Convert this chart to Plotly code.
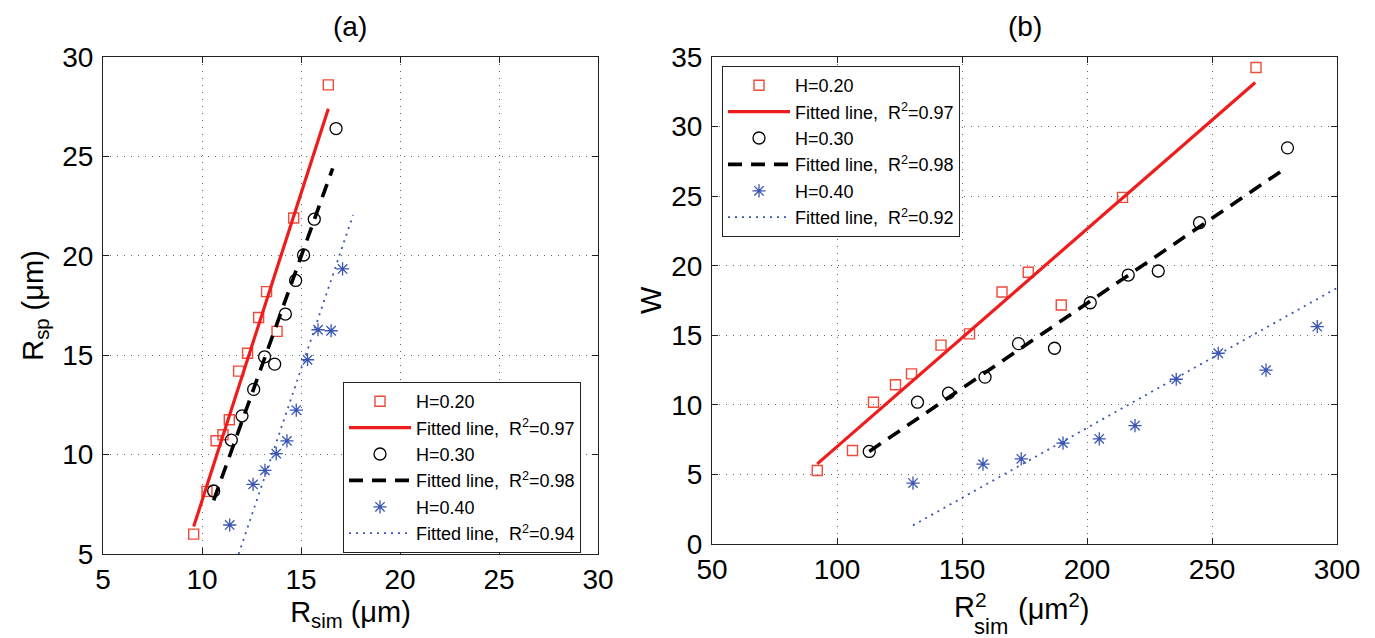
import plotly.graph_objects as go

# ---------------- Panel (a) data ----------------
a_h20_x = [9.58, 10.25, 10.71, 11.06, 11.38, 11.85, 12.30, 12.86, 13.26, 13.79, 14.63, 16.38]
a_h20_y = [6.0, 8.15, 10.7, 11.0, 11.75, 14.2, 15.1, 16.9, 18.2, 16.2, 21.9, 28.6]
a_h30_x = [10.59, 11.48, 12.02, 12.61, 13.16, 13.67, 14.21, 14.73, 15.13, 15.67, 16.77]
a_h30_y = [8.17, 10.73, 11.95, 13.28, 14.92, 14.55, 17.07, 18.76, 20.04, 21.84, 26.4]
a_h40_x = [11.40, 12.58, 13.18, 13.75, 14.29, 14.76, 15.33, 15.86, 16.52, 17.10]
a_h40_y = [6.46, 8.5, 9.21, 10.05, 10.69, 12.24, 14.77, 16.28, 16.23, 19.34]
a_fit20_x = [9.58, 16.38]
a_fit20_y = [6.38, 27.4]
a_fit30_x = [10.59, 16.60]
a_fit30_y = [7.7, 24.4]
a_fit40_x = [11.85, 17.63]
a_fit40_y = [5.0, 22.05]
a_r2 = ["0.97", "0.98", "0.94"]

# ---------------- Panel (b) data ----------------
b_h20_x = [92.1, 106.2, 114.6, 123.4, 129.8, 141.6, 153.0, 166.0, 176.5, 189.7, 214.2, 267.6]
b_h20_y = [5.28, 6.72, 10.19, 11.44, 12.23, 14.29, 15.1, 18.11, 19.53, 17.18, 24.91, 34.24]
b_h30_x = [112.9, 132.2, 144.6, 159.2, 172.6, 187.0, 201.3, 216.5, 228.5, 245.0, 280.2]
b_h30_y = [6.65, 10.19, 10.84, 11.99, 14.4, 14.07, 17.34, 19.33, 19.62, 23.09, 28.47]
b_h40_x = [130.4, 158.4, 173.7, 190.4, 204.9, 219.2, 235.7, 252.5, 271.6, 292.1]
b_h40_y = [4.38, 5.74, 6.12, 7.25, 7.56, 8.51, 11.84, 13.71, 12.49, 15.62]
b_fit20_x = [92.1, 267.3]
b_fit20_y = [5.76, 33.17]
b_fit30_x = [112.9, 280.2]
b_fit30_y = [6.65, 27.1]
b_fit40_x = [130.4, 300.0]
b_fit40_y = [1.34, 18.4]
b_r2 = ["0.97", "0.98", "0.92"]

series_names = ["H=0.20", "H=0.30", "H=0.40"]

W, H = 1375, 638
OFF = 8  # page body margin
FONT = "Liberation Sans, Arial, Helvetica, sans-serif"
RED_M = "#f04a3a"
RED_L = "#ee1c1c"
BLACK = "#000000"
BLUE = "#3a55b4"

def px_x(p):
    return (p - OFF) / W

def px_y(p):
    return 1 - (p - OFF) / H

fig = go.Figure()

def add_panel(pts, fits, r2s, xa, ya, legend):
    marker_styles = [
        dict(symbol="square-open", size=10, color=RED_M, line=dict(width=1.4, color=RED_M)),
        dict(symbol="circle-open", size=12, color=BLACK, line=dict(width=1.3, color=BLACK)),
        dict(symbol="asterisk-open", size=11, color=BLUE, line=dict(width=1.3, color=BLUE)),
    ]
    line_styles = [
        dict(color=RED_L, width=3.2, dash="solid"),
        dict(color=BLACK, width=3.6, dash="14px,9px"),
        dict(color=BLUE, width=1.8, dash="2px,5px"),
    ]
    for i in range(3):
        fig.add_trace(go.Scatter(
            x=pts[i][0], y=pts[i][1], mode="markers", name=series_names[i],
            marker=marker_styles[i], xaxis=xa, yaxis=ya, legend=legend))
        fig.add_trace(go.Scatter(
            x=fits[i][0], y=fits[i][1], mode="lines",
            name="Fitted line,  R<sup>2</sup>=" + r2s[i],
            line=line_styles[i], xaxis=xa, yaxis=ya, legend=legend))

add_panel([(a_h20_x, a_h20_y), (a_h30_x, a_h30_y), (a_h40_x, a_h40_y)],
          [(a_fit20_x, a_fit20_y), (a_fit30_x, a_fit30_y), (a_fit40_x, a_fit40_y)],
          a_r2, "x", "y", "legend")
add_panel([(b_h20_x, b_h20_y), (b_h30_x, b_h30_y), (b_h40_x, b_h40_y)],
          [(b_fit20_x, b_fit20_y), (b_fit30_x, b_fit30_y), (b_fit40_x, b_fit40_y)],
          b_r2, "x2", "y2", "legend2")

axis_common = dict(
    showline=True, linecolor="#222222", linewidth=1, mirror="ticks",
    ticks="inside", ticklen=6, tickcolor="#222222",
    showgrid=True, gridcolor="#666666", gridwidth=1, griddash="1px,6px",
    zeroline=False, automargin=False,
    tickfont=dict(family=FONT, size=28, color="black"),
)
TITLE_FONT = dict(family=FONT, size=29, color="black")

def ann(text, x, y, size, xanchor="center", yanchor="middle", angle=0):
    return dict(text=text, x=px_x(x), y=px_y(y), xref="paper", yref="paper",
                xanchor=xanchor, yanchor=yanchor, textangle=angle, showarrow=False,
                font=dict(family=FONT, size=size, color="black"))

fig.update_layout(
    width=W, height=H,
    margin=dict(l=0, r=0, t=0, b=0),
    paper_bgcolor="white", plot_bgcolor="white",
    font=dict(family=FONT, color="black"),
    xaxis=dict(domain=[px_x(103), px_x(598)], range=[5, 30], dtick=5, tick0=5, anchor="y",
               ticklabelstandoff=0,
               title=dict(text="R<sub>sim</sub> (μm)", font=TITLE_FONT, standoff=8),
               **axis_common),
    yaxis=dict(domain=[px_y(554), px_y(57)], range=[5, 30], dtick=5, tick0=5, anchor="x",
               ticklabelstandoff=3,
               title=dict(text="R<sub>sp</sub> (μm)", font=TITLE_FONT, standoff=10),
               **axis_common),
    xaxis2=dict(domain=[px_x(712), px_x(1337)], range=[50, 300], dtick=50, tick0=50, anchor="y2",
                ticklabelstandoff=0,
                **axis_common),
    yaxis2=dict(domain=[px_y(544), px_y(57)], range=[0, 35], dtick=5, tick0=0, anchor="x2",
                ticklabelstandoff=3,
                **axis_common),
    legend=dict(x=px_x(343), y=px_y(382), xanchor="left", yanchor="top",
                bgcolor="white", bordercolor="#222222", borderwidth=1,
                font=dict(family=FONT, size=18, color="black"),
                tracegroupgap=0, itemwidth=62),
    legend2=dict(x=px_x(722), y=px_y(66), xanchor="left", yanchor="top",
                 bgcolor="white", bordercolor="#222222", borderwidth=1,
                 font=dict(family=FONT, size=18, color="black"),
                 tracegroupgap=0, itemwidth=62),
    annotations=[
        ann("(a)", 350, 26, 28),
        ann("(b)", 1025, 26, 28),
        # panel (b) x-axis title: R with stacked superscript 2 / subscript sim
        ann("R", 952, 607, 29, xanchor="left"),
        ann("2", 981, 599, 21),
        ann("sim", 972, 626, 22, xanchor="left"),
        ann("(μm<sup>2</sup>)", 1016, 607, 29, xanchor="left"),
        # panel (b) y-axis title
        ann("W", 651, 300, 29, angle=-90),
    ],
)

fig.write_html("out.html")
